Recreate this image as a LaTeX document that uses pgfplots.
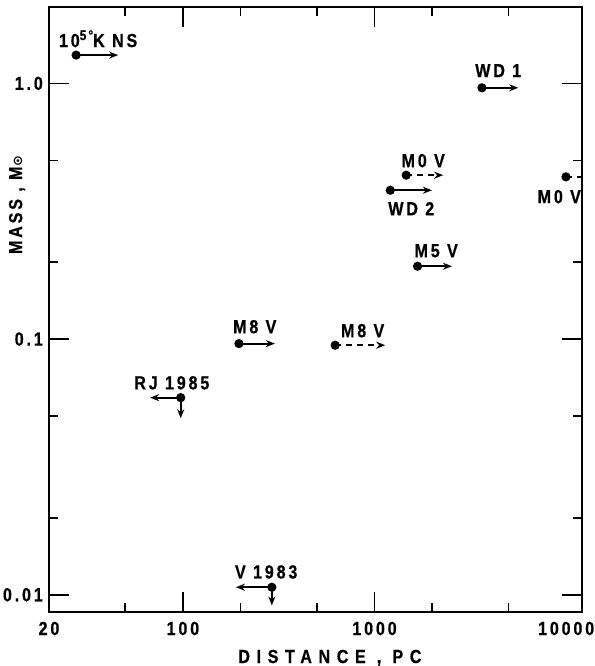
\documentclass[border=0pt]{standalone}
\usepackage{fontspec}
\setmainfont{Liberation Sans}[UprightFont=* Bold, BoldFont=* Bold, FakeStretch=0.85, FakeBold=0.6]
\newfontfamily\numfont{Liberation Sans}[UprightFont=* Bold, BoldFont=* Bold, FakeStretch=0.85, FakeBold=0.6, LetterSpace=15]
\newfontfamily\widefont{Liberation Sans}[UprightFont=* Bold, BoldFont=* Bold, FakeStretch=0.85, FakeBold=0.6, LetterSpace=35]
\newfontfamily\dejavu{DejaVu Sans}
\usepackage{pgfplots}
\pgfplotsset{compat=1.18}
\usetikzlibrary{arrows.meta}
\pgfplotsset{
  arr/.style={black, line width=1.9bp, -{Stealth[length=9bp,width=7bp]}, mark=*, mark size=3.6bp, mark indices={1}, mark options={solid}},
  arrnm/.style={black, line width=1.9bp, -{Stealth[length=9bp,width=7bp]}, mark=none},
  dsh/.style={dash pattern=on 6bp off 5bp},
}
\newcommand{\lab}{\numfont\fontsize{19}{21}\selectfont}
\begin{document}
\begin{tikzpicture}
\begin{axis}[
  scale only axis, width=533bp, height=605bp,
  xmode=log, ymode=log,
  xmin=20, xmax=12100, ymin=0.00856, ymax=1.99,
  axis line style={line width=1.8bp},
  xtick={100,1000}, xticklabels={100,1000},
  extra x ticks={20,10000}, extra x tick labels={20,10000},
  extra x tick style={major tick length=0pt},
  minor xtick={50,200,500,2000,5000},
  ytick={0.01,0.1,1}, yticklabels={0.01,0.1,1.0},
  minor ytick={0.02,0.05,0.2,0.5},
  major tick length=20bp, minor tick length=9bp,
  tick style={line width=1.6bp, black},
  tick align=inside,
  xticklabel style={font=\lab, anchor=base, inner sep=0pt, yshift=-23bp},
  yticklabel style={font=\lab, anchor=east, inner sep=0pt, xshift=-6bp},
  xlabel={DISTANCE , PC},
  ylabel={MASS , M{\dejavu\bfseries\fontsize{13}{13}\selectfont ⊙}},
  xlabel style={font=\widefont\fontsize{19}{21}\selectfont, at={(axis description cs:0.527,-0.0843)}, anchor=base, inner sep=0pt},
  ylabel style={font=\lab, at={(axis description cs:-0.060,0.673)}, anchor=center, inner sep=0pt},
  clip=true,
]
% 10^5 K NS
\addplot[arr] coordinates {(27.7,1.29) (45.9,1.29)};
% WD 1
\addplot[arr] coordinates {(3636,0.961) (5624,0.961)};
% M0 V dashed
\addplot[arr,dsh] coordinates {(1463,0.4375) (2281,0.4375)};
% WD 2
\addplot[arr] coordinates {(1208,0.382) (1993,0.382)};
% M5 V
\addplot[arr] coordinates {(1677,0.1927) (2535,0.1927)};
% M0 V right edge
\addplot[arr,dsh] coordinates {(9980,0.431) (13500,0.431)};
% M8 V solid
\addplot[arr] coordinates {(196,0.096) (302,0.096)};
% M8 V dashed
\addplot[arr,dsh] coordinates {(623,0.0946) (1137,0.0946)};
% RJ 1985
\addplot[arr] coordinates {(97.4,0.059) (67.4,0.059)};
\addplot[arrnm] coordinates {(97.4,0.059) (97.4,0.049)};
% V 1983
\addplot[arr] coordinates {(291,0.0107) (189,0.0107)};
\addplot[arrnm] coordinates {(291,0.0107) (291,0.00908)};
% labels
\node[font=\lab, anchor=base, inner sep=0pt] at (axis cs:36.1,1.387) {10\raisebox{7bp}{\fontsize{14}{14}\selectfont 5°}K NS};
\node[font=\lab, anchor=base, inner sep=0pt] at (axis cs:4422,1.058) {WD 1};
\node[font=\lab, anchor=base, inner sep=0pt] at (axis cs:1795,0.470) {M0 V};
\node[font=\lab, anchor=base, inner sep=0pt] at (axis cs:1555,0.305) {WD 2};
\node[font=\lab, anchor=base, inner sep=0pt] at (axis cs:2098,0.209) {M5 V};
\node[font=\lab, anchor=base, inner sep=0pt] at (axis cs:9207,0.340) {M0 V};
\node[font=\lab, anchor=base, inner sep=0pt] at (axis cs:237,0.1054) {M8 V};
\node[font=\lab, anchor=base, inner sep=0pt] at (axis cs:867,0.1017) {M8 V};
\node[font=\lab, anchor=base, inner sep=0pt] at (axis cs:87.5,0.0636) {RJ 1985};
\node[font=\lab, anchor=base, inner sep=0pt] at (axis cs:272,0.01158) {V 1983};
\coordinate (ll) at (rel axis cs:0,0);
\coordinate (ur) at (rel axis cs:1,1);
\end{axis}
\pgfresetboundingbox
\path[use as bounding box] ([xshift=-49bp,yshift=-54bp]ll) rectangle ([xshift=13bp,yshift=7bp]ur);
\end{tikzpicture}
\end{document}
